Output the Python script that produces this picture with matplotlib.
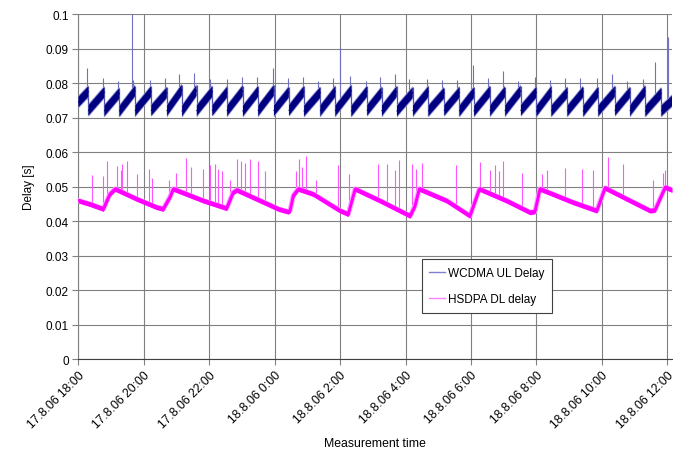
import numpy as np
import pandas as pd
import matplotlib
matplotlib.use("Agg")
import matplotlib.pyplot as plt

plt.rcParams['font.family'] = ['Liberation Sans', 'DejaVu Sans']

start = pd.Timestamp("2006-08-17 18:00")
t_end = 18.15  # hours after start where the record ends

# WCDMA UL delay: sawtooth, each tooth ends with a drop (hours after start)
wcdma_drop_h = [0.30, 0.79, 1.25, 1.73, 2.22, 2.70, 3.16, 3.61, 4.09, 4.54,
                5.02, 5.49, 5.97, 6.43, 6.89, 7.39, 7.85, 8.34, 8.82, 9.27,
                9.73, 10.22, 10.70, 11.18, 11.65, 12.09, 12.58, 13.04, 13.52, 14.00,
                14.46, 14.95, 15.43, 15.89, 16.40, 16.86, 17.33, 17.82]
wcdma_top = [0.0790, 0.0788, 0.0785, 0.0792, 0.0790, 0.0787, 0.0795, 0.0793, 0.0790, 0.0788,
             0.0792, 0.0790, 0.0793, 0.0788, 0.0790, 0.0787, 0.0790, 0.0793, 0.0790, 0.0788,
             0.0790, 0.0787, 0.0790, 0.0786, 0.0788, 0.0787, 0.0790, 0.0789, 0.0792, 0.0788,
             0.0790, 0.0787, 0.0789, 0.0788, 0.0790, 0.0787, 0.0792, 0.0785]
wcdma_bottom = [0.0706, 0.0705, 0.0704, 0.0705, 0.0706, 0.0705, 0.0704, 0.0705, 0.0706, 0.0705,
                0.0704, 0.0705, 0.0705, 0.0706, 0.0704, 0.0705, 0.0705, 0.0704, 0.0706, 0.0705,
                0.0704, 0.0705, 0.0705, 0.0706, 0.0705, 0.0704, 0.0705, 0.0705, 0.0706, 0.0704,
                0.0705, 0.0705, 0.0704, 0.0705, 0.0706, 0.0705, 0.0704, 0.0705]
wcdma_first = 0.0745
wcdma_last = 0.0748
wcdma_band = 0.0015  # half height of the noisy band

# WCDMA spikes (hours, peak delay)
wcdma_spike_h = [0.25, 0.74, 1.22, 1.64, 1.68, 2.19, 2.65, 3.08, 3.53, 4.02, 4.53, 4.99, 5.45,
                 5.94, 6.42, 6.87, 7.33, 7.79, 8.00, 8.30, 8.79, 9.22, 9.68, 10.12, 10.65, 11.11,
                 11.56, 12.05, 12.53, 12.99, 13.45, 13.96, 14.42, 14.88, 15.34, 15.85, 16.31,
                 16.76, 17.25, 17.63, 18.02]
wcdma_spike_v = [0.0843, 0.0814, 0.0805, 0.1000, 0.0810, 0.0808, 0.0814, 0.0826, 0.0830, 0.0812,
                 0.0812, 0.0817, 0.0817, 0.0843, 0.0815, 0.0817, 0.0807, 0.0815, 0.0903, 0.0819,
                 0.0807, 0.0817, 0.0826, 0.0812, 0.0812, 0.0810, 0.0810, 0.0853, 0.0815, 0.0835,
                 0.0806, 0.0818, 0.0808, 0.0815, 0.0815, 0.0815, 0.0826, 0.0806, 0.0813, 0.0860,
                 0.0932]

# HSDPA DL delay: envelope (hours, delay)
hsdpa_h = [0.00, 0.35, 0.76, 0.96, 1.12, 1.78, 2.39, 2.59, 2.80, 2.90, 3.82, 4.53, 4.73, 4.84,
           5.86, 6.11, 6.41, 6.47, 6.57, 6.72, 7.18, 8.00, 8.25, 8.46, 9.22, 10.14, 10.29,
           10.42, 11.26, 11.97, 12.26, 13.09, 13.81, 13.96, 14.11, 15.13, 15.85, 16.10, 16.87,
           17.48, 17.63, 17.94, 18.15]
hsdpa_v = [0.0459, 0.0449, 0.0435, 0.0478, 0.0493, 0.0464, 0.0440, 0.0435, 0.0470, 0.0493,
           0.0459, 0.0437, 0.0483, 0.0490, 0.0446, 0.0435, 0.0427, 0.0430, 0.0474, 0.0493,
           0.0478, 0.0430, 0.0420, 0.0493, 0.0459, 0.0415, 0.0444, 0.0493, 0.0459, 0.0415,
           0.0493, 0.0459, 0.0425, 0.0428, 0.0493, 0.0454, 0.0430, 0.0496, 0.0459, 0.0430,
           0.0432, 0.0498, 0.0490]
hsdpa_band = 0.0007

# HSDPA spikes (hours, peak delay)
hsdpa_spike_h = [0.40, 0.76, 0.88, 1.17, 1.29, 1.34, 1.47, 1.78, 2.17, 2.24, 2.77, 2.98, 3.28,
                 3.43, 3.82, 4.02, 4.17, 4.28, 4.38, 4.63, 4.84, 4.96, 5.09, 5.24, 5.50, 5.70,
                 6.65, 6.75, 6.83, 6.95, 7.25, 7.94, 8.28, 9.15, 9.44, 9.68, 9.79, 10.19, 10.32,
                 10.50, 11.54, 12.28, 12.58, 12.74, 12.87, 12.99, 13.57, 14.17, 14.32, 14.88,
                 15.41, 15.74, 16.18, 16.66, 17.58, 17.88, 17.93, 18.14]
hsdpa_spike_v = [0.0533, 0.0530, 0.0573, 0.0559, 0.0549, 0.0565, 0.0573, 0.0535, 0.0552, 0.0525,
                 0.0520, 0.0540, 0.0584, 0.0556, 0.0552, 0.0562, 0.0565, 0.0550, 0.0545, 0.0520,
                 0.0580, 0.0573, 0.0568, 0.0580, 0.0573, 0.0545, 0.0546, 0.0580, 0.0557, 0.0588,
                 0.0520, 0.0562, 0.0535, 0.0565, 0.0565, 0.0549, 0.0576, 0.0565, 0.0552, 0.0568,
                 0.0562, 0.0570, 0.0549, 0.0562, 0.0546, 0.0573, 0.0540, 0.0535, 0.0549, 0.0553,
                 0.0552, 0.0549, 0.0585, 0.0565, 0.0520, 0.0538, 0.0549, 0.0562]

tick_h = [0, 2, 4, 6, 8, 10, 12, 14, 16, 18]
tick_labels = ["17.8.06 18:00", "17.8.06 20:00", "17.8.06 22:00", "18.8.06 0:00",
               "18.8.06 2:00", "18.8.06 4:00", "18.8.06 6:00", "18.8.06 8:00",
               "18.8.06 10:00", "18.8.06 12:00"]


def to_time(hours):
    return start + pd.to_timedelta(np.asarray(hours), unit="h")


# centre line of each rising ramp, nan between teeth so the drops stay thin
ramp_h = [0.0]
ramp_v = [wcdma_first]
for h, top, bot in zip(wcdma_drop_h, wcdma_top, wcdma_bottom):
    ramp_h += [h, np.nan, h + 0.01]
    ramp_v += [top - wcdma_band, np.nan, bot + wcdma_band]
ramp_h.append(t_end)
ramp_v.append(wcdma_last)
ramp_t = start + pd.to_timedelta(np.array(ramp_h), unit="h")
ramp_v = np.array(ramp_v)
hsdpa_t = to_time(hsdpa_h)
hsdpa_v = np.array(hsdpa_v)

fig = plt.figure(figsize=(6.73, 4.52), dpi=100)
ax = fig.add_axes([0.1166, 0.2035, 0.8820, 0.7633])

# spikes and drops first so the dense bands sit over their feet
w_base = np.interp(wcdma_spike_h, [0.0] + wcdma_drop_h + [t_end],
                   [wcdma_first] + wcdma_top + [wcdma_last])
ax.vlines(to_time(wcdma_spike_h), w_base - 0.003, wcdma_spike_v, color="#7070c0", lw=0.8, zorder=3)
ax.vlines(to_time(wcdma_drop_h), wcdma_bottom, wcdma_top, color="#5050b0", lw=0.9, zorder=3)
h_base = np.interp(hsdpa_spike_h, hsdpa_h, hsdpa_v)
ax.vlines(to_time(hsdpa_spike_h), h_base, hsdpa_spike_v, color="#ff55ff", lw=0.8, zorder=3)

# noisy bands: light fringe, dense core, thin trace for the legend
ax.fill_between(ramp_t, ramp_v - wcdma_band - 0.0004, ramp_v + wcdma_band + 0.0004,
                color="#9090d0", lw=0, zorder=4)
ax.fill_between(ramp_t, ramp_v - wcdma_band, ramp_v + wcdma_band,
                color="#000080", lw=0, zorder=5)
ax.plot(ramp_t, ramp_v, color="#000080", lw=0.8, label="WCDMA UL Delay", zorder=5)

ax.plot(hsdpa_t, hsdpa_v, color="#ff99ff", lw=3.6, zorder=4)
ax.fill_between(hsdpa_t, hsdpa_v - hsdpa_band, hsdpa_v + hsdpa_band,
                color="#ff00ff", lw=0, zorder=5)
ax.plot(hsdpa_t, hsdpa_v, color="#ff00ff", lw=2.0, label="HSDPA DL delay", zorder=5)

ax.set_xlim(to_time([0])[0], to_time([t_end])[0])
ax.set_ylim(0, 0.1)
ax.set_yticks(np.arange(0, 0.101, 0.01))
ax.set_yticklabels(["0", "0.01", "0.02", "0.03", "0.04", "0.05", "0.06", "0.07", "0.08", "0.09", "0.1"])
ax.set_xticks(to_time(tick_h))
ax.set_xticklabels(tick_labels, rotation=45, ha="right", rotation_mode="anchor")
ax.tick_params(labelsize=8.5, length=4, color="#808080", pad=3)
ax.tick_params(axis="x", labelsize=8.8)
ax.grid(True, color="#808080", lw=0.8)
ax.set_axisbelow(True)
for s in ["top", "right"]:
    ax.spines[s].set_visible(False)
ax.spines["left"].set_color("#808080")
ax.spines["bottom"].set_color("#404040")

ax.set_ylabel("Delay [s]", fontsize=8.5, labelpad=8)
ax.set_xlabel("Measurement time", fontsize=8.8, labelpad=5)

leg = ax.legend(loc="lower left", bbox_to_anchor=(0.578, 0.133), borderaxespad=0, fontsize=8.5,
                frameon=True, fancybox=False, edgecolor="#404040", framealpha=1,
                handlelength=1.3, handletextpad=0.3, labelspacing=1.25, borderpad=0.65)
leg.get_frame().set_linewidth(0.8)
leg_cols = ["#8080d0", "#ff80ff"]
for line, c in zip(leg.get_lines(), leg_cols):
    line.set_color(c)
    line.set_linewidth(1.0)

fig.savefig("out.png", dpi=100)
